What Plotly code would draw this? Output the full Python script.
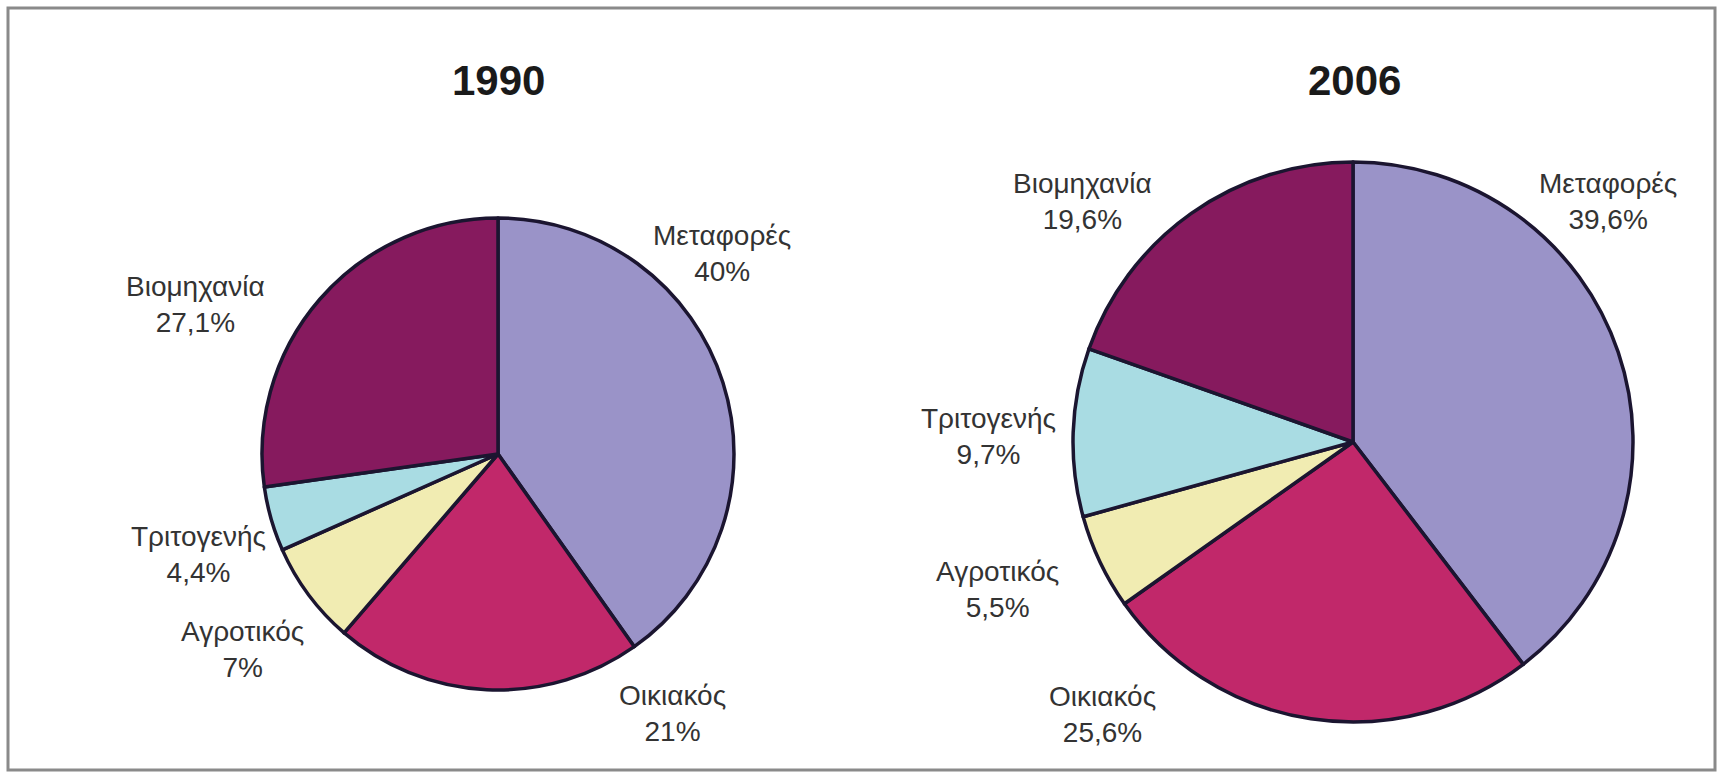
import plotly.graph_objects as go

# Data
sectors = ["Μεταφορές", "Οικιακός", "Αγροτικός", "Τριτογενής", "Βιομηχανία"]
values_1990 = [40.0, 21.0, 7.0, 4.4, 27.1]
values_2006 = [39.6, 25.6, 5.5, 9.7, 19.6]
labels_1990 = ["40%", "21%", "7%", "4,4%", "27,1%"]
labels_2006 = ["39,6%", "25,6%", "5,5%", "9,7%", "19,6%"]
years = ["1990", "2006"]

colors = ["#9A93C8", "#C1286A", "#F1ECB2", "#A9DCE3", "#861A5E"]

W, H = 1723, 776
FONT = "Liberation Sans, Arial, sans-serif"

fig = go.Figure()

def px_dom(cx, cy, r):
    return dict(x=[(cx - r) / W, (cx + r) / W], y=[1 - (cy + r) / H, 1 - (cy - r) / H])

pie_geo = [(498, 454, 236), (1353, 442, 280)]
for vals, (cx, cy, r) in zip([values_1990, values_2006], pie_geo):
    fig.add_trace(go.Pie(
        labels=sectors, values=vals, sort=False, direction="clockwise", rotation=0,
        marker=dict(colors=colors, line=dict(color="#1B1530", width=3.5)),
        textinfo="none", hoverinfo="label+value", showlegend=False,
        domain=px_dom(cx, cy, r),
    ))

# label positions in pixels (centre of two-line text)
pos_1990 = [(722, 254), (672, 713), (242, 649), (198, 554), (195, 305)]
pos_2006 = [(1608, 202), (1102, 714), (998, 589), (988, 436), (1082, 202)]

annotations = []
for labs, pos in [(labels_1990, pos_1990), (labels_2006, pos_2006)]:
    for name, lab, (x, y) in zip(sectors, labs, pos):
        annotations.append(dict(
            x=x / W, y=1 - y / H, xref="paper", yref="paper",
            text=f"{name}<br>{lab}", showarrow=False, align="center",
            font=dict(family=FONT, size=28, color="#333333"),
            xanchor="center", yanchor="middle",
        ))

for yr, (x, y) in zip(years, [(499, 81), (1354, 81)]):
    annotations.append(dict(
        x=x / W, y=1 - y / H, xref="paper", yref="paper",
        text=f"<b>{yr}</b>", showarrow=False,
        font=dict(family=FONT, size=42, color="#1a1a1a"),
        xanchor="center", yanchor="middle",
    ))

fig.update_layout(
    width=W, height=H,
    margin=dict(l=0, r=0, t=0, b=0),
    paper_bgcolor="white", plot_bgcolor="white",
    annotations=annotations,
    shapes=[dict(type="rect", xref="paper", yref="paper",
                 x0=8 / W, x1=1715 / W, y0=1 - 770 / H, y1=1 - 8 / H,
                 line=dict(color="#8a8a8a", width=3))],
)

fig.write_html("out.html",
               config={"displayModeBar": False},
               post_script="document.body.style.margin='0';document.body.style.overflow='hidden';")
